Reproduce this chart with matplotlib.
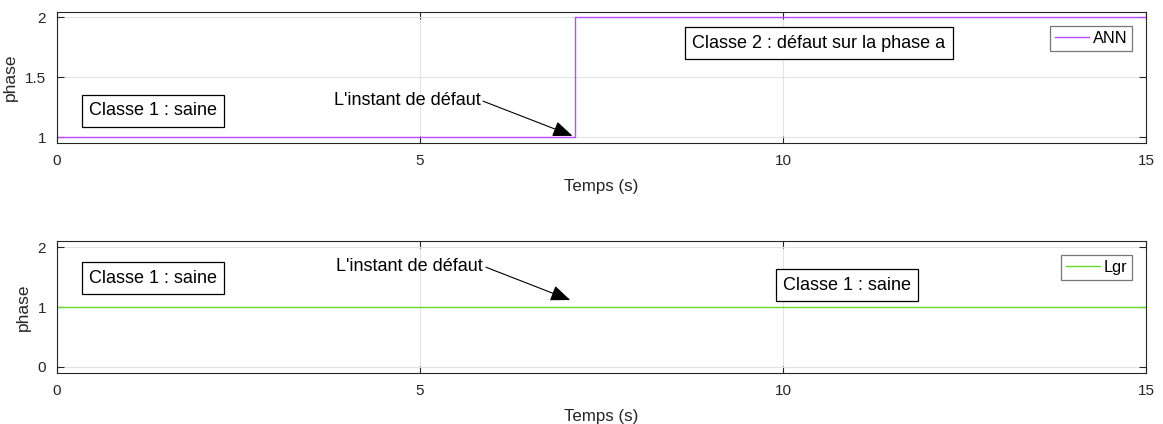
import matplotlib
matplotlib.use("Agg")
import matplotlib.pyplot as plt

plt.rcParams["font.family"] = ["Liberation Sans", "DejaVu Sans"]

# ---------- data ---------------------------------------------------------
t_ann = [0.0, 7.13, 7.13, 15.0]
ann_class = [1, 1, 2, 2]
t_lgr = [0.0, 15.0]
lgr_class = [1, 1]

xticks = [0, 5, 10, 15]
yticks_top = [1, 1.5, 2]
yticks_bot = [0, 1, 2]

ANN_COLOR = "#b84dff"
LGR_COLOR = "#66d92a"
INK = "#262626"


def matlab_axes(ax):
    ax.grid(True, color="#e3e3e3", lw=0.8)
    ax.set_axisbelow(True)
    for s in ax.spines.values():
        s.set_color(INK)
        s.set_linewidth(0.8)
    ax.tick_params(direction="in", top=True, right=True, length=5,
                   labelsize=11, colors=INK, pad=8)
    ax.set_xlim(0, 15)
    ax.set_xticks(xticks)
    ax.set_xticklabels([str(v) for v in xticks])
    ax.set_xlabel("Temps (s)", fontsize=12.2, color=INK, labelpad=8)
    ax.set_ylabel("phase", fontsize=12.5, color=INK, labelpad=5)


def add_legend(ax):
    leg = ax.legend(loc="upper right", fontsize=11.8, fancybox=False,
                    edgecolor="#555555", handlelength=2.1, handletextpad=0.2,
                    borderaxespad=0.85, borderpad=0.3)
    leg.get_frame().set_linewidth(0.9)


box = dict(boxstyle="square,pad=0.4", fc="white", ec="black", lw=0.9)
arrow = dict(arrowstyle="-|>,head_length=0.55,head_width=0.22", color="black",
             lw=0.8, mutation_scale=22, shrinkA=0, shrinkB=0, relpos=(1, 0.5))
TXT = 13

fig = plt.figure(figsize=(11.63, 4.24), dpi=100)
ax1 = fig.add_axes([0.049, 0.6627, 0.9364, 0.309])
ax2 = fig.add_axes([0.049, 0.1203, 0.9364, 0.311])

# ---- top: ANN ----
ax1.plot(t_ann, ann_class, color=ANN_COLOR, lw=1.0, label="ANN")
ax1.set_ylim(0.95, 2.042)
ax1.set_yticks(yticks_top)
ax1.set_yticklabels(["1", "1.5", "2"])
matlab_axes(ax1)
ax1.text(0.44, 1.217, "Classe 1 : saine", ha="left", va="center",
         fontsize=TXT, bbox=box)
ax1.text(8.75, 1.783, "Classe 2 : défaut sur la phase a", ha="left",
         va="center", fontsize=TXT, bbox=box)
ax1.annotate("L'instant de défaut", xy=(7.1, 1.01), xytext=(5.83, 1.308),
             ha="right", va="center", fontsize=TXT, arrowprops=arrow)
add_legend(ax1)

# ---- bottom: Lgr ----
ax2.plot(t_lgr, lgr_class, color=LGR_COLOR, lw=1.0, label="Lgr")
ax2.set_ylim(-0.1, 2.1)
ax2.set_yticks(yticks_bot)
ax2.set_yticklabels(["0", "1", "2"])
matlab_axes(ax2)
ax2.text(0.44, 1.483, "Classe 1 : saine", ha="left", va="center",
         fontsize=TXT, bbox=box)
ax2.text(10.0, 1.367, "Classe 1 : saine", ha="left", va="center",
         fontsize=TXT, bbox=box)
ax2.annotate("L'instant de défaut", xy=(7.07, 1.117), xytext=(5.87, 1.683),
             ha="right", va="center", fontsize=TXT, arrowprops=arrow)
add_legend(ax2)

fig.savefig("out.png", dpi=100)
